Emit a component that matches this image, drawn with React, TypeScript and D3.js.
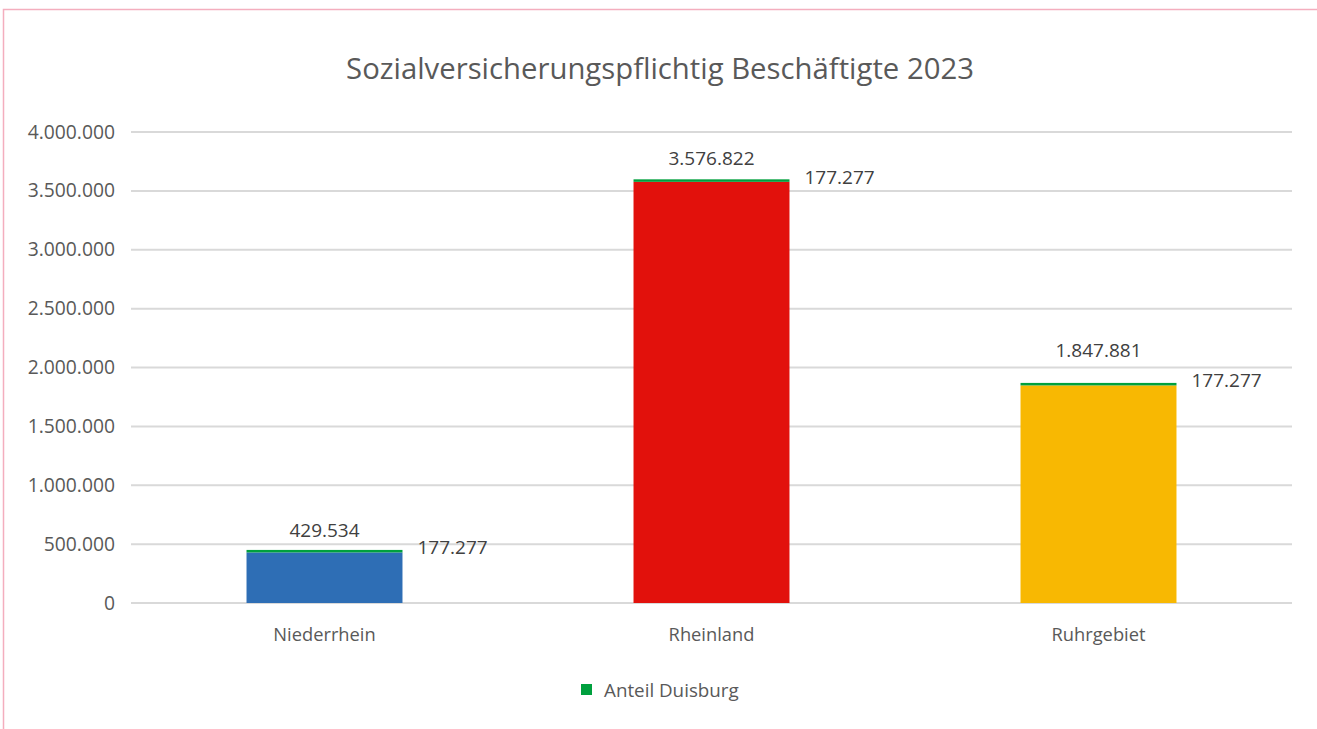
import React from "react";
import * as d3 from "d3";

const categories = ["Niederrhein", "Rheinland", "Ruhrgebiet"];
const totals = [429534, 3576822, 1847881];
const duisburgShare = [177277, 177277, 177277];
const barColors = ["#2E6EB5", "#E2110C", "#F8B802"];
const yTicks = [0, 500000, 1000000, 1500000, 2000000, 2500000, 3000000, 3500000, 4000000];
const title = "Sozialversicherungspflichtig Beschäftigte 2023";
const legendLabel = "Anteil Duisburg";

const W = 1317;
const H = 729;
const FONT = "'Open Sans', 'Noto Sans', sans-serif";
const fmt = (v: number) => d3.format(",")(v).replace(/,/g, ".");
// label lift above bar cap (layout tweak matching the reference)
const totalLabelLift: Record<string, number> = { Niederrhein: 13, Rheinland: 14, Ruhrgebiet: 26 };

export default function App() {
  const left = 131, right = 1292, top = 132, bottom = 603;
  const x = d3.scaleBand<string>().domain(categories).range([left, right]).paddingInner(0.597).paddingOuter(0.2985);
  const y = d3.scaleLinear().domain([0, 4000000]).range([bottom, top]);
  const capH = 2.5;
  return (
    <svg width={W} height={H} style={{ position: "absolute", left: 0, top: 0, background: "#fff" }}>
      <rect x={3.5} y={9.5} width={W + 10} height={H + 10} fill="none" stroke="#F4AEBE" strokeWidth={1.5} />
      <text x={660} y={79} textAnchor="middle" fontFamily={FONT} fontSize={29.3} fill="#595959">{title}</text>
      {yTicks.map((t) => (
        <g key={t}>
          <line x1={left} x2={right} y1={y(t)} y2={y(t)} stroke="#D9D9D9" strokeWidth={2} />
          <text x={115} y={y(t) + 6.5} textAnchor="end" fontFamily={FONT} fontSize={19.3} fill="#595959">{fmt(t)}</text>
        </g>
      ))}
      {categories.map((c, i) => {
        const bx = x(c)!;
        const bw = x.bandwidth();
        const yt = y(totals[i]);
        return (
          <g key={c}>
            <rect x={bx} y={yt} width={bw} height={bottom - yt} fill={barColors[i]} />
            <rect x={bx} y={yt - capH} width={bw} height={capH} fill="#00A03E" />
            <text x={bx + bw / 2} y={yt - capH - totalLabelLift[c]} textAnchor="middle" fontFamily={FONT} fontSize={19} fill="#404040">{fmt(totals[i])}</text>
            <text x={bx + bw + 15} y={yt + 2} textAnchor="start" fontFamily={FONT} fontSize={19} fill="#404040">{fmt(duisburgShare[i])}</text>
            <text x={bx + bw / 2} y={641} textAnchor="middle" fontFamily={FONT} fontSize={18.3} fill="#595959">{c}</text>
          </g>
        );
      })}
      <rect x={581} y={684} width={11} height={11} fill="#00A03E" />
      <text x={604} y={696.5} fontFamily={FONT} fontSize={18.8} fill="#595959">{legendLabel}</text>
    </svg>
  );
}
